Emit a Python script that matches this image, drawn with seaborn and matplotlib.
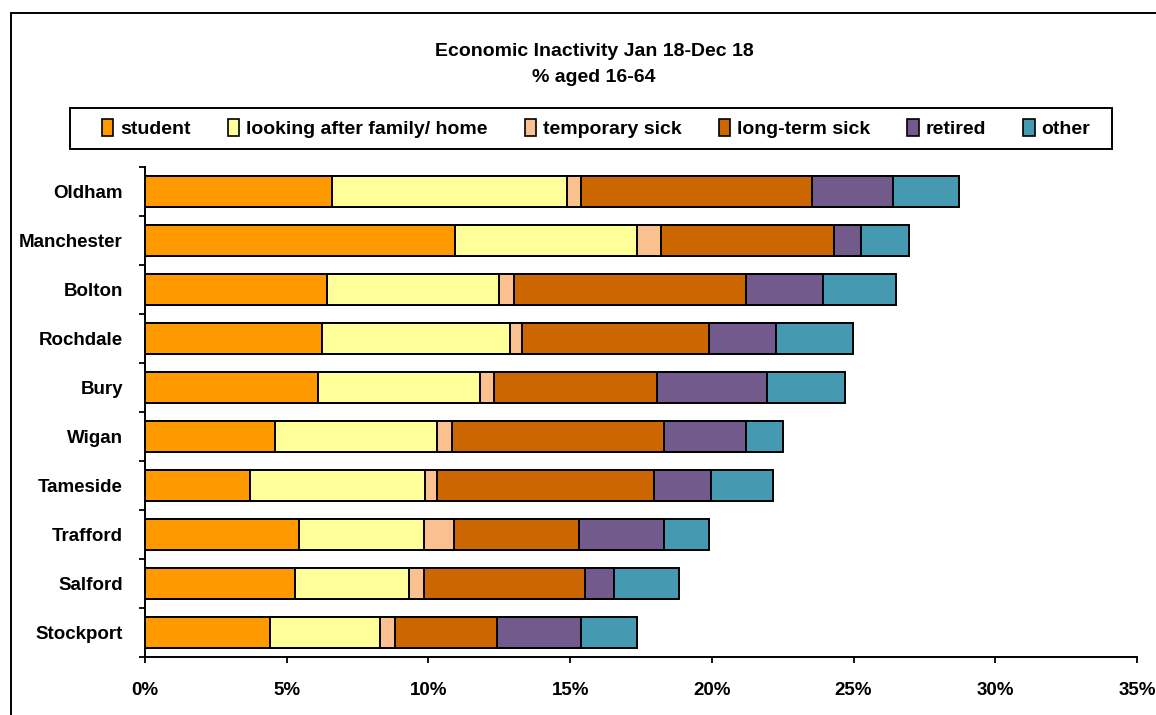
import matplotlib
matplotlib.use("Agg")
import numpy as np
import pandas as pd
import seaborn as sns
import matplotlib.pyplot as plt
from matplotlib.patches import Patch, Rectangle
from matplotlib.lines import Line2D
from matplotlib.ticker import FixedLocator

# ---- data (percent of people aged 16-64) ----
areas = ["Oldham", "Manchester", "Bolton", "Rochdale", "Bury",
         "Wigan", "Tameside", "Trafford", "Salford", "Stockport"]
student = [6.59, 10.94, 6.42, 6.24, 6.12, 4.59, 3.71, 5.42, 5.30, 4.42]
looking_after = [8.31, 6.43, 6.06, 6.64, 5.70, 5.72, 6.18, 4.41, 4.00, 3.88]
temporary_sick = [0.48, 0.83, 0.53, 0.43, 0.48, 0.53, 0.42, 1.06, 0.53, 0.53]
long_term_sick = [8.17, 6.12, 8.18, 6.58, 5.78, 7.48, 7.66, 4.41, 5.71, 3.60]
retired = [2.83, 0.95, 2.72, 2.36, 3.88, 2.89, 1.99, 3.02, 1.01, 2.95]
other = [2.34, 1.70, 2.60, 2.73, 2.72, 1.29, 2.19, 1.59, 2.30, 1.99]

series_labels = ["student", "looking after family/ home", "temporary sick",
                 "long-term sick", "retired", "other"]
series_values = [student, looking_after, temporary_sick, long_term_sick, retired, other]
colors = ["#FF9900", "#FFFF99", "#FAC090", "#CC6600", "#725A8D", "#4599B1"]
x_ticks = [0, 5, 10, 15, 20, 25, 30, 35]
x_tick_labels = ["0%", "5%", "10%", "15%", "20%", "25%", "30%", "35%"]
title_lines = ["Economic Inactivity Jan 18-Dec 18", "% aged 16-64"]

sns.set_style("white")
plt.rcParams["font.family"] = ["Liberation Sans", "DejaVu Sans"]
for k in ["text.color", "axes.labelcolor", "xtick.color", "ytick.color"]:
    plt.rcParams[k] = "black"

W, H = 1156, 715
fig = plt.figure(figsize=(W / 100, H / 100), dpi=100)
ax = fig.add_axes([145 / W, 1 - 657 / H, (1137 - 145) / W, (657 - 167) / H])

df = pd.DataFrame({"area": areas})
for lab, vals in zip(series_labels, series_values):
    df[lab] = vals
cum = df[series_labels].cumsum(axis=1)
cum["area"] = areas

for lab, col in reversed(list(zip(series_labels, colors))):
    sns.barplot(data=cum, x=lab, y="area", orient="h", color=col,
                saturation=1, edgecolor="black", linewidth=1.4,
                width=0.645, ax=ax, zorder=2)

ax.set_xlim(0, 35)
ax.set_ylim(9.5, -0.5)
ax.set_xlabel("")
ax.set_ylabel("")
ax.set_xticks(x_ticks)
ax.set_xticklabels(x_tick_labels, fontsize=13.5, fontweight="bold")
ax.set_yticks(range(len(areas)))
ax.set_yticklabels(areas, fontsize=13.5, fontweight="bold")
ax.yaxis.set_minor_locator(FixedLocator(np.arange(-0.5, len(areas), 1)))
ax.tick_params(axis="y", which="major", length=0, pad=16)
ax.tick_params(axis="y", which="minor", length=4, width=1.3, color="black", direction="out", left=True)
ax.tick_params(axis="x", which="major", length=4, width=1.3, color="black", direction="out",
               bottom=True, pad=14)
for s in ["top", "right"]:
    ax.spines[s].set_visible(False)
for s in ["left", "bottom"]:
    ax.spines[s].set_color("black")
    ax.spines[s].set_linewidth(1.4)
ax.grid(False)

# title
fig.text(594 / W, 1 - 52 / H, title_lines[0], ha="center", va="center",
         fontsize=14, fontweight="bold")
fig.text(594 / W, 1 - 78 / H, title_lines[1], ha="center", va="center",
         fontsize=14, fontweight="bold")

# legend box and entries
fig.add_artist(Rectangle((70 / W, 1 - 149 / H), 1042 / W, 41 / H, transform=fig.transFigure,
                         facecolor="white", edgecolor="black", linewidth=1.4, zorder=1))
handles = [Patch(facecolor=c, edgecolor="black", linewidth=1.2) for c in colors]
leg = fig.legend(handles, series_labels, loc="center", ncol=6,
                 bbox_to_anchor=(596 / W, 1 - 128.5 / H),
                 frameon=False, columnspacing=1.9, handlelength=0.6, handleheight=1.0,
                 handletextpad=0.35, prop={"size": 14, "weight": "bold"},
                 borderaxespad=0, borderpad=0)
leg.set_zorder(3)

# outer chart-area border
fig.add_artist(Line2D([11 / W, 11 / W], [-0.1, 1 - 13 / H], transform=fig.transFigure,
                      color="black", linewidth=1.4))
fig.add_artist(Line2D([11 / W, 1.1], [1 - 13 / H, 1 - 13 / H], transform=fig.transFigure,
                      color="black", linewidth=1.4))

fig.savefig("out.png", dpi=100, facecolor="white")
